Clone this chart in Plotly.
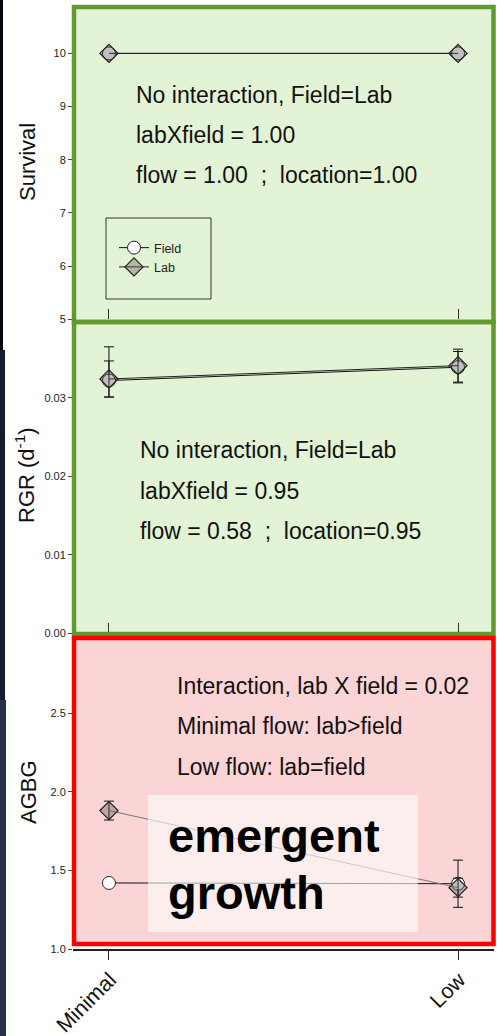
import plotly.graph_objects as go

# ---------------- data ----------------
categories = ["Minimal", "Low"]

survival_field = [10, 10]
survival_lab = [10, 10]

rgr_field = [0.0322, 0.0339]
rgr_field_err_plus = [0.0043, 0.0020]
rgr_field_err_minus = [0.0021, 0.0020]
rgr_lab = [0.0324, 0.0341]
rgr_lab_err = [0.0023, 0.0021]

agbg_field = [1.42, 1.415]
agbg_field_err = [0.0, 0.15]
agbg_lab = [1.88, 1.39]
agbg_lab_err = [0.06, 0.06]

survival_ticks = [5, 6, 7, 8, 9, 10]
rgr_ticks = [0.00, 0.01, 0.02, 0.03]
agbg_ticks = [1.0, 1.5, 2.0, 2.5]

panel1_text = ["No interaction, Field=Lab", "labXfield = 1.00",
               "flow = 1.00\u00a0\u00a0;\u00a0\u00a0location=1.00"]
panel2_text = ["No interaction, Field=Lab", "labXfield = 0.95",
               "flow = 0.58\u00a0\u00a0;\u00a0\u00a0location=0.95"]
panel3_text = ["Interaction, lab X field = 0.02", "Minimal flow: lab>field",
               "Low flow: lab=field"]
big_text = ["emergent", "growth"]

# ---------------- helpers ----------------
W, H = 497, 1036


def px(x):
    return x / W


def py(y):
    return 1 - y / H


FONT = "Liberation Sans, Arial, sans-serif"
LAB_FILL = "rgba(80,80,80,0.36)"

fig = go.Figure()


def add_panel(idx, fy, ly, fplus=None, fminus=None, lerr=None, lab_line="#222", legend=False):
    xa = "x" if idx == 1 else f"x{idx}"
    ya = "y" if idx == 1 else f"y{idx}"
    ferr = None
    if fplus is not None:
        ferr = dict(type="data", array=fplus, arrayminus=fminus if fminus is not None else fplus,
                    visible=True, color="#111", thickness=1, width=5)
    lerr_d = None
    if lerr is not None:
        lerr_d = dict(type="data", array=lerr, visible=True, color="#111", thickness=1, width=5)
    fig.add_trace(go.Scatter(
        x=categories, y=fy, name="Field", mode="lines+markers",
        line=dict(color="#111", width=1),
        marker=dict(symbol="circle", size=13, color="white", line=dict(color="#222", width=1)),
        error_y=ferr, xaxis=xa, yaxis=ya, showlegend=legend))
    fig.add_trace(go.Scatter(
        x=categories, y=ly, name="Lab", mode="lines+markers",
        line=dict(color=lab_line, width=1),
        marker=dict(symbol="diamond", size=14, color=LAB_FILL, line=dict(color="#222", width=1.2)),
        error_y=lerr_d, xaxis=xa, yaxis=ya, showlegend=legend))


add_panel(1, survival_field, survival_lab, legend=True)
add_panel(2, rgr_field, rgr_lab, rgr_field_err_plus, rgr_field_err_minus, rgr_lab_err)
add_panel(3, agbg_field, agbg_lab, agbg_field_err, agbg_field_err, agbg_lab_err, lab_line="#777")

xdom = [px(73), px(494)]
xr = [-0.103, 1.103]
common_x = dict(domain=xdom, range=xr, type="category", showgrid=False, zeroline=False,
                categoryorder="array", categoryarray=categories, automargin=False)
common_y = dict(showgrid=False, zeroline=False, ticks="outside", ticklen=4, tickcolor="#444",
                tickfont=dict(family=FONT, size=11, color="#222"), showline=False, automargin=False)

fig.update_layout(
    width=W, height=H, autosize=False,
    margin=dict(l=0, r=0, t=0, b=0, pad=0, autoexpand=False),
    paper_bgcolor="white", plot_bgcolor="rgba(0,0,0,0)",
    font=dict(family=FONT, color="#111"),
    xaxis=dict(**common_x, anchor="y", ticks="inside", ticklen=10, tickcolor="#333", showticklabels=False),
    xaxis2=dict(**common_x, anchor="y2", ticks="inside", ticklen=10, tickcolor="#333", showticklabels=False),
    xaxis3=dict(**common_x, anchor="y3", ticks="outside", ticklen=9, tickcolor="#222", tickangle=-45,
                tickfont=dict(family=FONT, size=21.5, color="#111"),
                ticklabelstandoff=-1, ticklabelshift=1,
                showline=True, linecolor="#222", linewidth=1.5),
    yaxis=dict(**common_y, domain=[py(319.3), py(5)], range=[5, 10.91], tickvals=survival_ticks, anchor="x"),
    yaxis2=dict(**common_y, domain=[py(633.3), py(322)], range=[0, 0.03966], tickvals=rgr_ticks,
                tickformat=".2f", anchor="x2"),
    yaxis3=dict(**common_y, domain=[py(949), py(636)], range=[1, 2.99], tickvals=agbg_ticks,
                tickformat=".1f", anchor="x3"),
    legend=dict(x=px(114), y=py(233), xanchor="left", yanchor="top", bgcolor="rgba(0,0,0,0)",
                borderwidth=0, font=dict(family=FONT, size=12.5, color="#222"), tracegroupgap=0),
)

shapes = []
GREEN_FILL = "#e3f3d5"
RED_FILL = "#fbd5d5"
GREEN = "#629a30"
# panel backgrounds
shapes.append(dict(type="rect", xref="paper", yref="paper", x0=px(74), x1=px(493.5), y0=py(322), y1=py(7),
                   fillcolor=GREEN_FILL, line=dict(width=0), layer="below"))
shapes.append(dict(type="rect", xref="paper", yref="paper", x0=px(74), x1=px(493.5), y0=py(634), y1=py(322),
                   fillcolor=GREEN_FILL, line=dict(width=0), layer="below"))
shapes.append(dict(type="rect", xref="paper", yref="paper", x0=px(74), x1=px(493.5), y0=py(944), y1=py(638),
                   fillcolor=RED_FILL, line=dict(width=0), layer="below"))
# emergent growth box
shapes.append(dict(type="rect", xref="paper", yref="paper", x0=px(148), x1=px(418), y0=py(932), y1=py(795),
                   fillcolor="rgba(255,255,255,0.6)", line=dict(width=0), layer="above"))
# borders
shapes.append(dict(type="rect", xref="paper", yref="paper", x0=px(74), x1=px(493.5), y0=py(322), y1=py(7),
                   line=dict(color=GREEN, width=4.5), layer="above"))
shapes.append(dict(type="rect", xref="paper", yref="paper", x0=px(74), x1=px(493.5), y0=py(634), y1=py(322),
                   line=dict(color=GREEN, width=4.5), layer="above"))
shapes.append(dict(type="rect", xref="paper", yref="paper", x0=px(74), x1=px(493.5), y0=py(944), y1=py(638),
                   line=dict(color="#ff0000", width=4.5), layer="above"))
# legend box
shapes.append(dict(type="rect", xref="paper", yref="paper", x0=px(106), x1=px(211), y0=py(299), y1=py(218),
                   line=dict(color="#333", width=1), layer="above"))
# left dark strip
shapes.append(dict(type="rect", xref="paper", yref="paper", x0=0, x1=px(3), y0=py(350), y1=1,
                   fillcolor="#05070c", line=dict(width=0), layer="above"))
shapes.append(dict(type="rect", xref="paper", yref="paper", x0=0, x1=px(5), y0=py(700), y1=py(350),
                   fillcolor="#141c2c", line=dict(width=0), layer="above"))
shapes.append(dict(type="rect", xref="paper", yref="paper", x0=0, x1=px(6), y0=0, y1=py(700),
                   fillcolor="#27334b", line=dict(width=0), layer="above"))
fig.update_layout(shapes=shapes)

ann = []


def text_lines(lines, x, centers, size=23):
    for t, c in zip(lines, centers):
        ann.append(dict(text=t, xref="paper", yref="paper", x=px(x), y=py(c), xanchor="left", yanchor="middle",
                        showarrow=False, align="left", font=dict(family=FONT, size=size, color="#111")))


text_lines(panel1_text, 134, [95.2, 135.2, 175.2])
text_lines(panel2_text, 138, [449.9, 490.9, 530.9])
text_lines(panel3_text, 175, [685.5, 726.2, 766.5])
for t, c in zip(big_text, [835.4, 892.7]):
    ann.append(dict(text=f"<b>{t}</b>", xref="paper", yref="paper", x=px(166), y=py(c), xanchor="left",
                    yanchor="middle", showarrow=False, align="left",
                    font=dict(family=FONT, size=47, color="#000")))

# axis titles
for t, c, xx in [("Survival", 162, 27), ("RGR (d<sup>-1</sup>)", 475, 25), ("AGBG", 792, 28)]:
    ann.append(dict(text=t, xref="paper", yref="paper", x=px(xx), y=py(c), xanchor="center", yanchor="middle",
                    textangle=-90, showarrow=False, font=dict(family=FONT, size=22, color="#111")))

fig.update_layout(annotations=ann)
fig.write_html("out.html")
